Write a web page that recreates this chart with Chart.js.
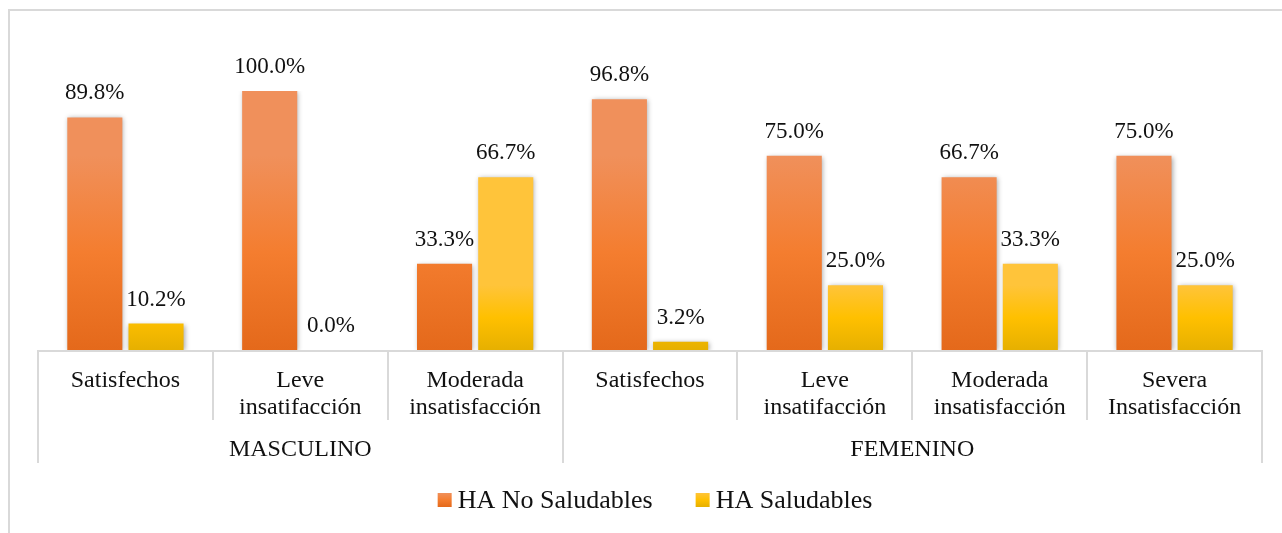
<!DOCTYPE html>
<html>
<head>
<meta charset="utf-8">
<script src="https://cdn.jsdelivr.net/npm/chart.js@4"></script>
<style>
  body { margin: 0; background: #fff; }
</style>
</head>
<body>
<canvas id="chart" width="1282" height="533"></canvas>
<script>
// data
const categories = [
    ['Satisfechos'], ['Leve', 'insatifacción'], ['Moderada', 'insatisfacción'],
    ['Satisfechos'], ['Leve', 'insatifacción'], ['Moderada', 'insatisfacción'], ['Severa', 'Insatisfacción']
];
const groups = ['MASCULINO', 'FEMENINO'];
const groupSizes = [3, 4];
const seriesNames = ['HA No Saludables', 'HA Saludables'];
const noSaludables = [89.8, 100.0, 33.3, 96.8, 75.0, 66.7, 75.0];
const saludables = [10.2, 0.0, 66.7, 3.2, 25.0, 33.3, 25.0];

const serif = "'Liberation Serif', 'Times New Roman', serif";
const lineColor = '#d9d9d9';
const textColor = '#111';
const gradStops = [
    ['#f0905b', '#f47d2f', '#e4691b'],
    ['#ffc43a', '#ffc000', '#e6b000']
];

function barGradient(ctx, top, bottom, stops) {
    const g = ctx.createLinearGradient(0, top, 0, bottom);
    g.addColorStop(0, stops[0]);
    g.addColorStop(0.5, stops[1]);
    g.addColorStop(1, stops[2]);
    return g;
}

const decor = {
    id: 'decor',
    beforeDatasetsDraw(chart) {
        const ctx = chart.ctx;
        chart.data.datasets.forEach((ds, i) => {
            chart.getDatasetMeta(i).data.forEach(bar => {
                bar.options.backgroundColor = barGradient(ctx, bar.y, bar.base, gradStops[i]);
            });
        });
        ctx.save();
        ctx.shadowColor = 'rgba(0,0,0,0.35)';
        ctx.shadowBlur = 5;
        ctx.shadowOffsetX = 1;
        ctx.shadowOffsetY = 1;
    },
    afterDatasetsDraw(chart) {
        const ctx = chart.ctx;
        ctx.restore();
        // value labels above bars
        ctx.save();
        ctx.font = '23px ' + serif;
        ctx.fillStyle = textColor;
        ctx.textAlign = 'center';
        ctx.textBaseline = 'middle';
        chart.data.datasets.forEach((ds, i) => {
            chart.getDatasetMeta(i).data.forEach((bar, j) => {
                ctx.fillText(ds.data[j].toFixed(1) + '%', bar.x, bar.y - 24);
            });
        });
        ctx.restore();
    },
    afterDraw(chart) {
        const ctx = chart.ctx;
        const xs = chart.scales.x;
        const area = chart.chartArea;
        const n = categories.length;
        const step = xs.width / n;
        ctx.save();
        ctx.fillStyle = lineColor;
        // outer frame (cut by the picture edge)
        ctx.fillRect(8, 9, 2, 533);
        ctx.fillRect(8, 9, 1282, 2);
        // axis line
        ctx.fillRect(xs.left, area.bottom, xs.width, 2);
        // dividers
        const groupEdges = [0];
        groupSizes.forEach(s => groupEdges.push(groupEdges[groupEdges.length - 1] + s));
        for (let k = 0; k <= n; k++) {
            const x = Math.round(xs.left + k * step) - 1;
            const bottom = groupEdges.includes(k) ? 463 : 420;
            ctx.fillRect(x, area.bottom, 2, bottom - area.bottom);
        }
        // group labels
        ctx.font = '24px ' + serif;
        ctx.fillStyle = textColor;
        ctx.textAlign = 'center';
        ctx.textBaseline = 'middle';
        groups.forEach((g, i) => {
            const cx = xs.left + (groupEdges[i] + groupEdges[i + 1]) / 2 * step;
            ctx.fillText(g, cx, 450);
        });
        // legend
        ctx.font = '26px ' + serif;
        ctx.textAlign = 'left';
        const box = 14, gapText = 6, gapItem = 43;
        const widths = seriesNames.map(s => box + gapText + ctx.measureText(s).width);
        const total = widths.reduce((a, b) => a + b, 0) + gapItem * (widths.length - 1);
        let lx = 655 - total / 2;
        const ly = 500;
        seriesNames.forEach((s, i) => {
            ctx.fillStyle = barGradient(ctx, ly - box / 2, ly + box / 2, gradStops[i]);
            ctx.fillRect(lx, ly - box / 2, box, box);
            ctx.fillStyle = textColor;
            ctx.fillText(s, lx + box + gapText, ly + 1);
            lx += widths[i] + gapItem;
        });
        ctx.restore();
    }
};

new Chart(document.getElementById('chart').getContext('2d'), {
    type: 'bar',
    data: {
        labels: categories,
        datasets: [{
            label: seriesNames[0],
            data: noSaludables,
            backgroundColor: gradStops[0][1],
            categoryPercentage: 0.7,
            barPercentage: 0.9
        }, {
            label: seriesNames[1],
            data: saludables,
            backgroundColor: gradStops[1][1],
            categoryPercentage: 0.7,
            barPercentage: 0.9
        }]
    },
    options: {
        responsive: false,
        animation: false,
        layout: { padding: { left: 38, right: 20, top: 91, bottom: 70 } },
        plugins: {
            legend: { display: false },
            tooltip: { enabled: false }
        },
        scales: {
            x: {
                grid: { display: false },
                border: { display: false },
                ticks: {
                    font: { family: serif, size: 24, lineHeight: 1.125 },
                    color: textColor,
                    padding: 9,
                    maxRotation: 0,
                    autoSkip: false
                },
                afterFit(s) { s.height = 113; }
            },
            y: { display: false, min: 0, max: 100 }
        }
    },
    plugins: [decor]
});
</script>
</body>
</html>
